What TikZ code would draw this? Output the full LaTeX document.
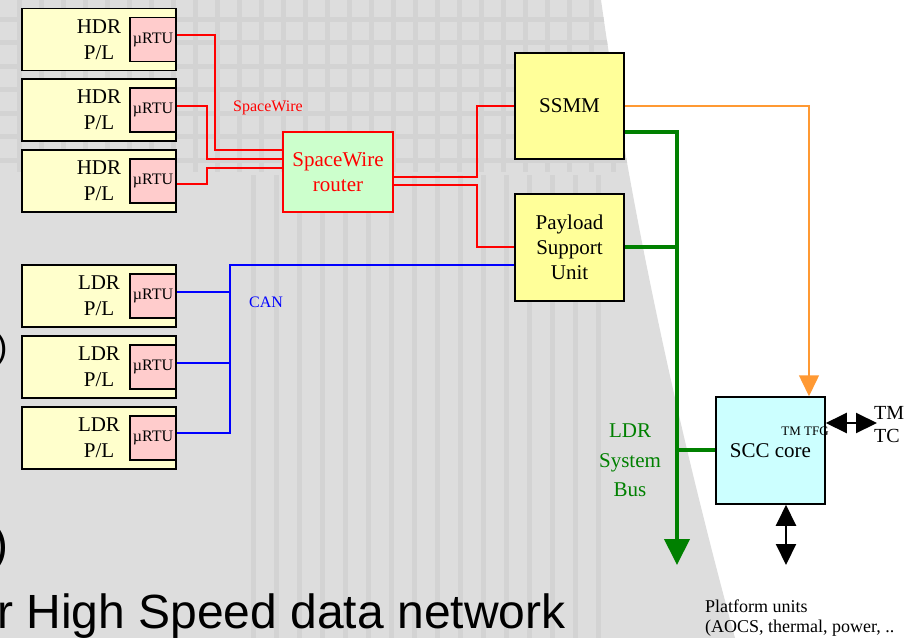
\documentclass[tikz,border=0pt]{standalone}
\usepackage{fontspec}
\setmainfont{Liberation Serif}
\newfontfamily\slidefont{Liberation Sans}
\usetikzlibrary{arrows.meta}

\definecolor{bgbase}{RGB}{221,221,221}
\definecolor{bgline}{RGB}{211,211,211}
\definecolor{payload}{RGB}{255,255,204}
\definecolor{rtufill}{RGB}{255,204,204}
\definecolor{routerfill}{RGB}{204,255,204}
\definecolor{unitfill}{RGB}{255,255,153}
\definecolor{sccfill}{RGB}{204,255,255}
\definecolor{swred}{RGB}{255,0,0}
\definecolor{canblue}{RGB}{0,0,255}
\definecolor{busgreen}{RGB}{0,128,0}
\definecolor{tmorange}{RGB}{255,153,51}

\tikzset{
  plbox/.style={draw=black, line width=1.5pt, fill=payload, minimum width=154pt,
    minimum height=62pt, inner sep=0pt, align=center, font=\fontsize{21}{26}\selectfont},
  rtubox/.style={draw=black, line width=1.5pt, fill=rtufill, minimum width=46pt,
    minimum height=44pt, inner sep=0pt, font=\fontsize{16}{18}\selectfont},
  unitbox/.style={draw=black, line width=1.5pt, fill=unitfill, minimum width=109pt,
    inner sep=0pt, align=center, font=\fontsize{21}{25}\selectfont},
  routerbox/.style={draw=swred, line width=2pt, fill=routerfill, minimum width=110pt,
    minimum height=80pt, inner sep=0pt, align=center, text=swred,
    font=\fontsize{21}{25}\selectfont},
  sccbox/.style={draw=black, line width=1.5pt, fill=sccfill, minimum width=109pt,
    minimum height=107pt, inner sep=0pt, font=\fontsize{21}{25}\selectfont},
  smalllabel/.style={inner sep=0pt, font=\fontsize{16}{18}\selectfont},
  swire/.style={draw=swred, line width=1.6pt},
  canline/.style={draw=canblue, line width=1.6pt},
  busline/.style={draw=busgreen, line width=4pt},
  tmline/.style={draw=tmorange, line width=1.5pt},
  ioline/.style={draw=black, line width=2pt},
  bigtip/.tip={Triangle[width=20pt,length=21pt]},
  bustip/.tip={Triangle[width=25pt,length=26pt]},
}

\begin{document}
\begin{tikzpicture}[x=1pt,y=-1pt]
\useasboundingbox (0,0) rectangle (905,638);
\fill[white] (0,0) rectangle (905,638);

% slide background: grey panel with a grid texture
\begin{scope}
  \clip (0,0) -- (601,0) .. controls (625,170) and (665,380) .. (735,638) -- (0,638) -- cycle;
  \fill[bgbase] (0,0) rectangle (905,638);
  \foreach \x in {19,41,...,620} \draw[bgline, line width=5pt] (\x,0) -- (\x,172);
  \foreach \y in {19,42.5,...,172} \draw[bgline, line width=5pt] (0,\y) -- (700,\y);
  \foreach \x in {253,276,...,600} \draw[bgline, line width=5pt] (\x,175) -- (\x,638);
\end{scope}

% slide text partly behind the diagram
\node[anchor=base west, inner sep=0pt, font=\slidefont\fontsize{34}{34}\selectfont] (parA) at (-4,358) {)};
\node[anchor=base west, inner sep=0pt, font=\slidefont\fontsize{48}{48}\selectfont] (parB) at (-8,560) {)};
\node[anchor=base west, inner sep=0pt, font=\slidefont\fontsize{48}{48}\selectfont] (title) at (-3,628) {r High Speed data network};

% high data rate payloads
\node[plbox] (hdr1) at (99,39.5) {HDR\\P/L};
\node[rtubox, anchor=east] (hr1) at (hdr1.east) {µRTU};
\node[plbox] (hdr2) at (99,110) {HDR\\P/L};
\node[rtubox, anchor=east] (hr2) at (hdr2.east) {µRTU};
\node[plbox] (hdr3) at (99,181) {HDR\\P/L};
\node[rtubox, anchor=east] (hr3) at (hdr3.east) {µRTU};

% low data rate payloads
\node[plbox] (ldr1) at (99,296) {LDR\\P/L};
\node[rtubox, anchor=east] (lr1) at (ldr1.east) {µRTU};
\node[plbox] (ldr2) at (99,367) {LDR\\P/L};
\node[rtubox, anchor=east] (lr2) at (ldr2.east) {µRTU};
\node[plbox] (ldr3) at (99,438) {LDR\\P/L};
\node[rtubox, anchor=east] (lr3) at (ldr3.east) {µRTU};

% router, mass memory, payload support and computer
\node[routerbox] (router) at (338,172) {SpaceWire\\router};
\node[unitbox, minimum height=106pt] (ssmm) at (569.5,106) {SSMM};
\node[unitbox, minimum height=107pt] (psu) at (569.5,247.5) {Payload\\Support\\Unit};
\node[sccbox] (scc) at (770.5,450.5) {SCC core};

% SpaceWire links
\draw[swire] (hr1.east |- 0,35) -- (215,35) -- (215,150) -- (router.west |- 0,150);
\draw[swire] (hr2.east |- 0,106) -- (207,106) -- (207,159) -- (router.west |- 0,159);
\draw[swire] (hr3.east |- 0,184) -- (207,184) -- (207,168) -- (router.west |- 0,168);
\draw[swire] (router.east |- 0,177) -- (477,177) -- (477,106) -- (ssmm.west |- 0,106);
\draw[swire] (router.east |- 0,185) -- (477,185) -- (477,247) -- (psu.west |- 0,247);
\node[smalllabel, text=swred] (swlabel) at (268,108) {SpaceWire};

% CAN bus
\draw[canline] (lr1.east |- 0,292) -- (230,292);
\draw[canline] (lr2.east |- 0,363) -- (230,363);
\draw[canline] (lr3.east |- 0,433) -- (230,433) -- (230,265) -- (psu.west |- 0,265);
\node[smalllabel, text=canblue] (canlabel) at (266,302) {CAN};

% LDR system bus
\coordinate (busend) at (677,565);
\draw[busline, -bustip] (ssmm.east |- 0,132) -- (677,132) -- (busend);
\draw[busline] (psu.east |- 0,247) -- (677,247);
\draw[busline] (677,450) -- (scc.west |- 0,450);
\node[align=center, inner sep=0pt, text=busgreen, font=\fontsize{21}{29.5}\selectfont] (buslabel) at (630,460.5) {LDR\\System\\Bus};

% telemetry link from the mass memory
\draw[tmline, -bigtip] (ssmm.east |- 0,106) -- (809,106) -- (scc.north -| 809,0);

% external interfaces of the computer
\coordinate (tmtcend) at (877,423);
\coordinate (platend) at (786,565);
\draw[ioline, bigtip-bigtip] (scc.east |- 0,423) -- (tmtcend);
\draw[ioline, bigtip-bigtip] (scc.south -| 786,0) -- (platend);
\node[inner sep=0pt, font=\fontsize{13}{14}\selectfont] (tfg) at (805,431) {TM TFG};
\node[anchor=west, align=left, inner sep=0pt, font=\fontsize{20}{23}\selectfont] (tmtc) at (874,425) {TM\\TC};
\node[anchor=base west, inner sep=0pt, font=\fontsize{18}{19}\selectfont] (plat1) at (705,612) {Platform units};
\node[anchor=base west, inner sep=0pt, font=\fontsize{18}{19}\selectfont] (plat2) at (705,632) {(AOCS, thermal, power, ..};
\end{tikzpicture}
\end{document}
